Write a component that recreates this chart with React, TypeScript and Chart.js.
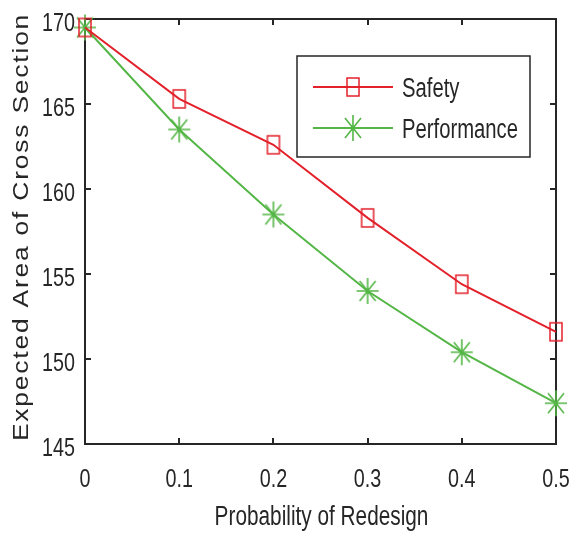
import React, { useEffect, useRef } from 'react';
import { Chart, registerables } from 'chart.js';

Chart.register(...registerables);

// ---- data ----
const probabilities = [0, 0.1, 0.2, 0.3, 0.4, 0.5];
const safetyValues = [169.5, 165.3, 162.6, 158.3, 154.4, 151.6];
const performanceValues = [169.5, 163.5, 158.5, 154.0, 150.4, 147.4];
const seriesNames = ['Safety', 'Performance'];
const xTickValues = [0, 0.1, 0.2, 0.3, 0.4, 0.5];
const xTickLabels = ['0', '0.1', '0.2', '0.3', '0.4', '0.5'];
const yTickValues = [145, 150, 155, 160, 165, 170];
const yTickLabels = ['145', '150', '155', '160', '165', '170'];
const xTitle = 'Probability of Redesign';
const yTitle = 'Expected Area of Cross Section';

// ---- styles ----
const RED = '#e3212b';
const GREEN = '#54b646';
const AXIS = '#262626';
const FONT = "'Liberation Sans', Arial, sans-serif";

function makeSquare(color: string): HTMLCanvasElement {
  const c = document.createElement('canvas');
  c.width = 16;
  c.height = 22;
  const g = c.getContext('2d')!;
  g.strokeStyle = color;
  g.lineWidth = 1.5;
  g.strokeRect(2, 2, 12, 18);
  return c;
}

function makeStar(color: string): HTMLCanvasElement {
  const c = document.createElement('canvas');
  c.width = 24;
  c.height = 28;
  const g = c.getContext('2d')!;
  g.strokeStyle = color;
  g.lineWidth = 1.6;
  g.beginPath();
  g.moveTo(12, 1); g.lineTo(12, 27);
  g.moveTo(1, 14); g.lineTo(23, 14);
  g.moveTo(4, 4); g.lineTo(20, 24);
  g.moveTo(20, 4); g.lineTo(4, 24);
  g.stroke();
  return c;
}

// draw text compressed horizontally (sx) around anchor (x, y)
function drawText(
  ctx: CanvasRenderingContext2D,
  text: string,
  x: number,
  y: number,
  size: number,
  sx: number,
  align: CanvasTextAlign,
) {
  ctx.save();
  ctx.translate(x, y);
  ctx.scale(sx, 1);
  ctx.font = `${size}px ${FONT}`;
  ctx.textAlign = align;
  ctx.textBaseline = 'alphabetic';
  ctx.fillText(text, 0, 0);
  ctx.restore();
}

export default function App() {
  const ref = useRef<HTMLCanvasElement | null>(null);

  useEffect(() => {
    const canvas = ref.current;
    if (!canvas) return;
    const square = makeSquare(RED);
    const star = makeStar(GREEN);
    const markers = [square, star];
    const colors = [RED, GREEN];

    const matlabAxes = {
      id: 'matlabAxes',
      beforeDatasetsDraw(chart: any) {
        const { ctx, chartArea, scales } = chart;
        const { left, right, top, bottom } = chartArea;
        ctx.save();
        ctx.strokeStyle = AXIS;
        ctx.lineWidth = 2;
        ctx.strokeRect(left, top, right - left, bottom - top);
        ctx.beginPath();
        const tl = 6;
        xTickValues.forEach((v) => {
          const px = Math.round(scales.x.getPixelForValue(v));
          ctx.moveTo(px, bottom);
          ctx.lineTo(px, bottom - tl);
          ctx.moveTo(px, top);
          ctx.lineTo(px, top + tl);
        });
        yTickValues.forEach((v) => {
          const py = Math.round(scales.y.getPixelForValue(v));
          ctx.moveTo(left, py);
          ctx.lineTo(left + tl, py);
          ctx.moveTo(right, py);
          ctx.lineTo(right - tl, py);
        });
        ctx.stroke();
        ctx.restore();
      },
      afterDraw(chart: any) {
        const { ctx, chartArea, scales } = chart;
        const { left, right, bottom } = chartArea;
        ctx.save();
        ctx.fillStyle = AXIS;
        // tick labels
        xTickValues.forEach((v, i) => {
          const px = scales.x.getPixelForValue(v);
          drawText(ctx, xTickLabels[i], px, bottom + 43, 26, 0.76, 'center');
        });
        yTickValues.forEach((v, i) => {
          const py = scales.y.getPixelForValue(v);
          drawText(ctx, yTickLabels[i], left - 10, py + 12, 26, 0.76, 'right');
        });
        // x title
        drawText(ctx, xTitle, (left + right) / 2 + 1, 525, 27, 0.77, 'center');
        // y title
        ctx.save();
        ctx.translate(28, 227);
        ctx.rotate(-Math.PI / 2);
        ctx.scale(1.2, 1);
        ctx.font = `22px ${FONT}`;
        (ctx as any).letterSpacing = '1.5px';
        ctx.textAlign = 'center';
        ctx.textBaseline = 'alphabetic';
        ctx.fillText(yTitle, 0, 0);
        ctx.restore();
        // legend
        const bx = 297, by = 56, bw = 233, bh = 101;
        ctx.fillStyle = '#ffffff';
        ctx.fillRect(bx, by, bw, bh);
        ctx.strokeStyle = AXIS;
        ctx.lineWidth = 1.5;
        ctx.strokeRect(bx, by, bw, bh);
        const rows = [87, 128];
        seriesNames.forEach((name, i) => {
          const yy = rows[i];
          ctx.strokeStyle = colors[i];
          ctx.lineWidth = 2;
          ctx.beginPath();
          ctx.moveTo(313, yy);
          ctx.lineTo(393, yy);
          ctx.stroke();
          const m = markers[i];
          ctx.drawImage(m, 353 - m.width / 2, yy - m.height / 2);
          ctx.fillStyle = AXIS;
          drawText(ctx, name, 402, yy + 10, 27, 0.75, 'left');
        });
        ctx.restore();
      },
    };

    const chart = new Chart(canvas, {
      type: 'line',
      data: {
        labels: probabilities,
        datasets: [
          {
            label: seriesNames[0],
            data: probabilities.map((p, i) => ({ x: p, y: safetyValues[i] })),
            borderColor: RED,
            backgroundColor: RED,
            borderWidth: 2,
            pointStyle: square as any,
            tension: 0,
            clip: false as any,
          },
          {
            label: seriesNames[1],
            data: probabilities.map((p, i) => ({ x: p, y: performanceValues[i] })),
            borderColor: GREEN,
            backgroundColor: GREEN,
            borderWidth: 2,
            pointStyle: star as any,
            tension: 0,
            clip: false as any,
          },
        ],
      },
      options: {
        responsive: false,
        animation: false,
        devicePixelRatio: 1,
        layout: { padding: { top: 19, right: 15, left: 0, bottom: 0 } },
        plugins: {
          legend: { display: false },
          tooltip: { enabled: false },
        },
        scales: {
          x: {
            type: 'linear',
            min: 0,
            max: 0.5,
            grid: { display: false, drawTicks: false },
            border: { display: false },
            afterBuildTicks: (s: any) => {
              s.ticks = xTickValues.map((v) => ({ value: v }));
            },
            afterFit: (s: any) => {
              s.height = 92;
              s.paddingLeft = 0;
              s.paddingRight = 0;
            },
            ticks: { display: false },
          },
          y: {
            type: 'linear',
            min: 145,
            max: 170,
            grid: { display: false, drawTicks: false },
            border: { display: false },
            afterBuildTicks: (s: any) => {
              s.ticks = yTickValues.map((v) => ({ value: v }));
            },
            afterFit: (s: any) => {
              s.width = 85;
              s.paddingTop = 0;
              s.paddingBottom = 0;
            },
            ticks: { display: false },
          },
        },
      },
      plugins: [matlabAxes],
    });
    return () => chart.destroy();
  }, []);

  return (
    <div style={{ position: 'fixed', left: 0, top: 0, width: 571, height: 536, background: '#fff' }}>
      <canvas ref={ref} width={571} height={536} style={{ display: 'block' }} />
    </div>
  );
}
